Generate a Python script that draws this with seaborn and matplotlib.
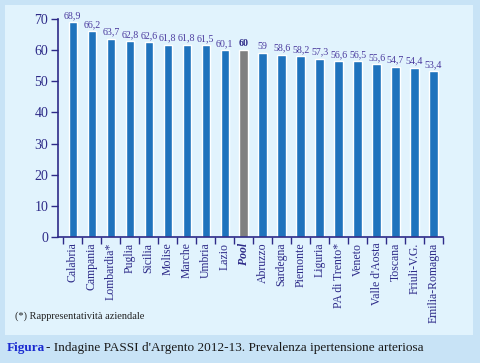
import numpy as np
import pandas as pd
import seaborn as sns
import matplotlib.pyplot as plt
from matplotlib.patches import Rectangle

# data
regions = ['Calabria', 'Campania', 'Lombardia*', 'Puglia', 'Sicilia', 'Molise',
           'Marche', 'Umbria', 'Lazio', 'Pool', 'Abruzzo', 'Sardegna',
           'Piemonte', 'Liguria', 'PA di Trento*', 'Veneto', "Valle d'Aosta",
           'Toscana', 'Friuli-V.G.', 'Emilia-Romagna']
values = [68.9, 66.2, 63.7, 62.8, 62.6, 61.8, 61.8, 61.5, 60.1, 60.0,
          59.0, 58.6, 58.2, 57.3, 56.6, 56.5, 55.6, 54.7, 54.4, 53.4]
value_labels = ['68,9', '66,2', '63,7', '62,8', '62,6', '61,8', '61,8', '61,5', '60,1', '60',
                '59', '58,6', '58,2', '57,3', '56,6', '56,5', '55,6', '54,7', '54,4', '53,4']
yticks = [0, 10, 20, 30, 40, 50, 60, 70]

df = pd.DataFrame({'region': regions, 'value': values})

blue = '#1f73bd'
grey = '#808080'
navy = '#2d2a88'
purple = '#4a3a9e'
colors = [grey if r == 'Pool' else blue for r in regions]

sns.set_style('white')
plt.rcParams['font.family'] = ['Liberation Serif', 'DejaVu Serif']

fig = plt.figure(figsize=(4.8, 3.63), dpi=100)
fig.patch.set_facecolor('#c8e3f6')
# inner light panel, kept behind the axes
fig.patches.append(Rectangle((5 / 480, 1 - 335 / 363), 468 / 480, 330 / 363,
                             transform=fig.transFigure, facecolor='#e1f3fd',
                             edgecolor='none', zorder=-10))

ax = fig.add_axes([58 / 480, 1 - 237 / 363, 385 / 480, 218 / 363])
ax.set_facecolor('none')

sns.barplot(data=df, x='region', y='value', hue='region', palette=colors,
            legend=False, width=0.44, saturation=1, ax=ax, zorder=2)

for i, (v, lab) in enumerate(zip(values, value_labels)):
    bold = regions[i] == 'Pool'
    ax.text(i, v + 0.6, lab, ha='center', va='bottom', fontsize=7.2,
            color=purple if not bold else navy,
            fontweight='bold' if bold else 'normal')

ax.set_ylim(0, 70)
ax.set_xlim(-0.78, 19.5)
ax.set_yticks(yticks)
ax.set_yticklabels([str(t) for t in yticks], fontsize=10, color=navy)

ax.set_xticks(range(len(regions)))
ax.set_xticklabels(regions, rotation=90, fontsize=8.5, color=navy)
ax.set_xticks(np.arange(-0.5, len(regions), 1), minor=True)
ax.tick_params(axis='x', which='major', bottom=True, length=0, pad=4)
ax.tick_params(axis='x', which='minor', bottom=True, length=5, color=navy,
               width=1, direction='out')
ax.tick_params(axis='y', left=True, length=5, color=navy, width=1,
               direction='out', pad=2)
for lbl in ax.get_xticklabels():
    if lbl.get_text() == 'Pool':
        lbl.set_fontweight('bold')
        lbl.set_fontstyle('italic')

ax.set_xlabel('')
ax.set_ylabel('')
for side in ['top', 'right']:
    ax.spines[side].set_visible(False)
for side in ['left', 'bottom']:
    ax.spines[side].set_color(navy)
    ax.spines[side].set_linewidth(1.2)

fig.text(15 / 480, 1 - 316 / 363, '(*) Rappresentatività aziendale',
         fontsize=7.5, color='#222222', va='center')
fig.text(7 / 480, 1 - 348 / 363, 'Figura', fontsize=9.5, color='#1a2ad0',
         fontweight='bold', va='center')
fig.text(46 / 480, 1 - 348 / 363,
         "- Indagine PASSI d'Argento 2012-13. Prevalenza ipertensione arteriosa",
         fontsize=9.5, color='#1a1a1a', va='center')

fig.savefig('out.png', dpi=100, facecolor=fig.get_facecolor())
